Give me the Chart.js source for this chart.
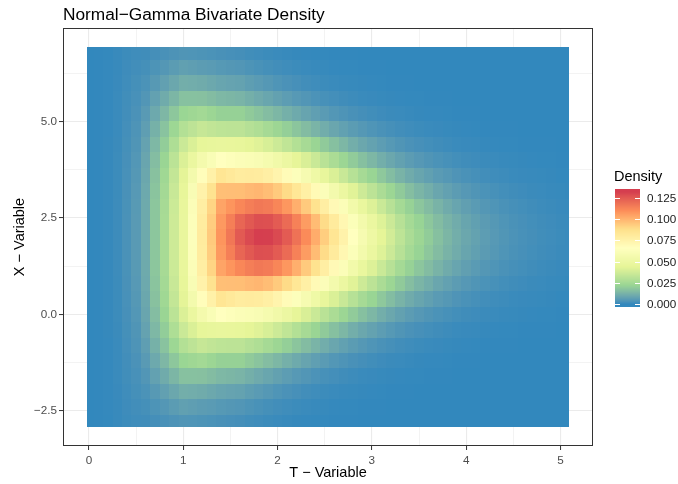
<!DOCTYPE html>
<html>
<head>
<meta charset="utf-8">
<script src="https://cdn.jsdelivr.net/npm/chart.js@4.4.1/dist/chart.umd.min.js"></script>
<style>
  html, body { margin: 0; padding: 0; background: #fff; }
</style>
</head>
<body>
<canvas id="grafico" width="678" height="484"></canvas>
<script>
// T values (columns) and X values (rows, top to bottom) of the grid
const tValues = [0, 0.1, 0.2, 0.3, 0.4, 0.5, 0.6, 0.7, 0.8, 0.9, 1.0, 1.1, 1.2, 1.3, 1.4, 1.5, 1.6, 1.7, 1.8, 1.9,
  2.0, 2.1, 2.2, 2.3, 2.4, 2.5, 2.6, 2.7, 2.8, 2.9, 3.0, 3.1, 3.2, 3.3, 3.4, 3.5, 3.6, 3.7, 3.8, 3.9,
  4.0, 4.1, 4.2, 4.3, 4.4, 4.5, 4.6, 4.7, 4.8, 4.9, 5.0, 5.1];
const xValues = [6.8, 6.4, 6.0, 5.6, 5.2, 4.8, 4.4, 4.0, 3.6, 3.2, 2.8, 2.4, 2.0, 1.6, 1.2, 0.8, 0.4, 0.0, -0.4, -0.8, -1.2, -1.6, -2.0, -2.4, -2.8];
const tExtent = [-0.025, 5.09];
const xExtent = [-2.92, 6.93];

// density, in units of 1e-4 (one row per X value, one column per T value)
const density = [
  [0, 1, 2, 6, 11, 15, 16, 22, 28, 34, 40, 38, 35, 32, 28, 25, 22, 17, 14, 11, 8, 6, 4, 3, 2, 2, 1, 1, 1, 0, 0, 0, 0, 0, 0, 0, 0, 0, 0, 0, 0, 0, 0, 0, 0, 0, 0, 0, 0, 0, 0, 0],
  [0, 1, 3, 6, 13, 19, 23, 35, 46, 59, 71, 66, 61, 56, 50, 46, 42, 35, 29, 23, 18, 14, 11, 8, 6, 5, 3, 2, 2, 1, 1, 1, 0, 0, 0, 0, 0, 0, 0, 0, 0, 0, 0, 0, 0, 0, 0, 0, 0, 0, 0, 0],
  [0, 1, 3, 7, 15, 23, 32, 52, 72, 92, 112, 108, 104, 95, 85, 80, 76, 65, 56, 47, 38, 31, 25, 19, 15, 11, 9, 6, 5, 4, 3, 2, 1, 1, 1, 0, 0, 0, 0, 0, 0, 0, 0, 0, 0, 0, 0, 0, 0, 0, 0, 0],
  [0, 1, 3, 8, 17, 27, 43, 74, 104, 135, 165, 164, 163, 152, 140, 135, 129, 114, 101, 88, 75, 62, 51, 42, 33, 26, 21, 16, 12, 9, 7, 5, 4, 3, 2, 2, 1, 1, 1, 0, 0, 0, 0, 0, 0, 0, 0, 0, 0, 0, 0, 0],
  [0, 1, 3, 9, 19, 31, 55, 97, 138, 181, 224, 236, 247, 229, 210, 210, 209, 190, 174, 155, 136, 117, 99, 83, 68, 56, 45, 36, 28, 22, 17, 13, 10, 8, 6, 4, 3, 3, 2, 1, 1, 1, 0, 0, 0, 0, 0, 0, 0, 0, 0, 0],
  [0, 1, 3, 9, 21, 36, 67, 119, 170, 232, 293, 319, 345, 333, 320, 318, 317, 298, 280, 256, 230, 204, 177, 152, 129, 108, 89, 73, 59, 48, 38, 30, 24, 19, 15, 11, 8, 7, 5, 4, 3, 2, 1, 1, 1, 1, 0, 0, 0, 0, 0, 0],
  [0, 1, 4, 10, 23, 40, 78, 139, 199, 279, 358, 405, 452, 461, 470, 463, 456, 439, 422, 396, 363, 329, 293, 257, 223, 191, 162, 136, 112, 92, 76, 62, 50, 40, 31, 25, 20, 16, 12, 9, 7, 6, 4, 3, 2, 2, 1, 1, 1, 1, 0, 0],
  [0, 1, 4, 11, 25, 44, 87, 155, 222, 315, 408, 484, 560, 610, 660, 640, 621, 611, 598, 571, 535, 494, 448, 402, 355, 310, 268, 229, 193, 162, 136, 112, 93, 75, 60, 49, 40, 32, 26, 20, 16, 13, 10, 8, 6, 5, 4, 3, 2, 2, 1, 1],
  [0, 1, 4, 11, 27, 48, 93, 166, 238, 337, 436, 556, 675, 758, 840, 818, 796, 799, 795, 772, 735, 689, 635, 578, 519, 460, 404, 351, 300, 256, 219, 184, 154, 126, 104, 86, 71, 57, 47, 37, 30, 24, 19, 15, 12, 9, 7, 6, 5, 4, 2, 2],
  [0, 1, 4, 11, 28, 51, 97, 174, 250, 352, 453, 602, 750, 860, 970, 972, 973, 985, 993, 975, 940, 893, 833, 768, 697, 626, 557, 489, 424, 366, 317, 269, 229, 190, 158, 132, 111, 90, 74, 60, 49, 40, 32, 26, 20, 16, 13, 10, 8, 6, 5, 4],
  [0, 1, 4, 12, 29, 53, 100, 179, 257, 361, 464, 622, 780, 910, 1040, 1080, 1119, 1144, 1163, 1153, 1121, 1074, 1011, 940, 861, 780, 700, 620, 542, 473, 413, 354, 303, 254, 213, 180, 152, 125, 103, 85, 70, 57, 46, 38, 30, 24, 20, 16, 12, 10, 7, 6],
  [0, 1, 4, 12, 30, 55, 100, 180, 260, 365, 470, 633, 795, 933, 1070, 1143, 1216, 1252, 1279, 1275, 1245, 1200, 1135, 1061, 978, 890, 802, 715, 628, 551, 484, 417, 360, 302, 254, 216, 183, 152, 126, 105, 86, 71, 58, 47, 38, 30, 25, 20, 16, 13, 10, 8],
  [0, 1, 4, 12, 30, 55, 100, 180, 260, 365, 470, 635, 800, 940, 1080, 1165, 1250, 1290, 1320, 1318, 1290, 1245, 1180, 1105, 1020, 930, 840, 750, 660, 580, 510, 440, 380, 320, 270, 230, 195, 162, 135, 112, 92, 76, 62, 51, 41, 33, 27, 22, 17, 14, 11, 9],
  [0, 1, 4, 12, 30, 55, 100, 180, 260, 365, 470, 633, 795, 933, 1070, 1143, 1216, 1252, 1279, 1275, 1245, 1200, 1135, 1061, 978, 890, 802, 715, 628, 551, 484, 417, 360, 302, 254, 216, 183, 152, 126, 105, 86, 71, 58, 47, 38, 30, 25, 20, 16, 13, 10, 8],
  [0, 1, 4, 12, 29, 53, 100, 179, 257, 361, 464, 622, 780, 910, 1040, 1080, 1119, 1144, 1163, 1153, 1121, 1074, 1011, 940, 861, 780, 700, 620, 542, 473, 413, 354, 303, 254, 213, 180, 152, 125, 103, 85, 70, 57, 46, 38, 30, 24, 20, 16, 12, 10, 7, 6],
  [0, 1, 4, 11, 28, 51, 97, 174, 250, 352, 453, 602, 750, 860, 970, 972, 973, 985, 993, 975, 940, 893, 833, 768, 697, 626, 557, 489, 424, 366, 317, 269, 229, 190, 158, 132, 111, 90, 74, 60, 49, 40, 32, 26, 20, 16, 13, 10, 8, 6, 5, 4],
  [0, 1, 4, 11, 27, 48, 93, 166, 238, 337, 436, 556, 675, 758, 840, 818, 796, 799, 795, 772, 735, 689, 635, 578, 519, 460, 404, 351, 300, 256, 219, 184, 154, 126, 104, 86, 71, 57, 47, 37, 30, 24, 19, 15, 12, 9, 7, 6, 5, 4, 2, 2],
  [0, 1, 4, 11, 25, 44, 87, 155, 222, 315, 408, 484, 560, 610, 660, 640, 621, 611, 598, 571, 535, 494, 448, 402, 355, 310, 268, 229, 193, 162, 136, 112, 93, 75, 60, 49, 40, 32, 26, 20, 16, 13, 10, 8, 6, 5, 4, 3, 2, 2, 1, 1],
  [0, 1, 4, 10, 23, 40, 78, 139, 199, 279, 358, 405, 452, 461, 470, 463, 456, 439, 422, 396, 363, 329, 293, 257, 223, 191, 162, 136, 112, 92, 76, 62, 50, 40, 31, 25, 20, 16, 12, 9, 7, 6, 4, 3, 2, 2, 1, 1, 1, 1, 0, 0],
  [0, 1, 3, 9, 21, 36, 67, 119, 170, 232, 293, 319, 345, 333, 320, 318, 317, 298, 280, 256, 230, 204, 177, 152, 129, 108, 89, 73, 59, 48, 38, 30, 24, 19, 15, 11, 8, 7, 5, 4, 3, 2, 1, 1, 1, 1, 0, 0, 0, 0, 0, 0],
  [0, 1, 3, 9, 19, 31, 55, 97, 138, 181, 224, 236, 247, 229, 210, 210, 209, 190, 174, 155, 136, 117, 99, 83, 68, 56, 45, 36, 28, 22, 17, 13, 10, 8, 6, 4, 3, 3, 2, 1, 1, 1, 0, 0, 0, 0, 0, 0, 0, 0, 0, 0],
  [0, 1, 3, 8, 17, 27, 43, 74, 104, 135, 165, 164, 163, 152, 140, 135, 129, 114, 101, 88, 75, 62, 51, 42, 33, 26, 21, 16, 12, 9, 7, 5, 4, 3, 2, 2, 1, 1, 1, 0, 0, 0, 0, 0, 0, 0, 0, 0, 0, 0, 0, 0],
  [0, 1, 3, 7, 15, 23, 32, 52, 72, 92, 112, 108, 104, 95, 85, 80, 76, 65, 56, 47, 38, 31, 25, 19, 15, 11, 9, 6, 5, 4, 3, 2, 1, 1, 1, 0, 0, 0, 0, 0, 0, 0, 0, 0, 0, 0, 0, 0, 0, 0, 0, 0],
  [0, 1, 3, 6, 13, 19, 23, 35, 46, 59, 71, 66, 61, 56, 50, 46, 42, 35, 29, 23, 18, 14, 11, 8, 6, 5, 3, 2, 2, 1, 1, 1, 0, 0, 0, 0, 0, 0, 0, 0, 0, 0, 0, 0, 0, 0, 0, 0, 0, 0, 0, 0],
  [0, 1, 2, 6, 11, 15, 16, 22, 28, 34, 40, 38, 35, 32, 28, 25, 22, 17, 14, 11, 8, 6, 4, 3, 2, 2, 1, 1, 1, 0, 0, 0, 0, 0, 0, 0, 0, 0, 0, 0, 0, 0, 0, 0, 0, 0, 0, 0, 0, 0, 0, 0]
];

const tTicks = [0, 1, 2, 3, 4, 5];
const tGrid = [0, 0.5, 1, 1.5, 2, 2.5, 3, 3.5, 4, 4.5, 5];
const xTicks = [-2.5, 0, 2.5, 5];
const xGrid = [-2.5, -1.25, 0, 1.25, 2.5, 3.75, 5, 6.25];
const legendTicks = [0, 0.025, 0.05, 0.075, 0.1, 0.125];
const spectral = ["#3288BD", "#99D594", "#E6F598", "#FFFFBF", "#FEE08B", "#FC8D59", "#D53E4F"];

const FONT = "'Liberation Sans', Arial, sans-serif";
const MINUS = "\u2212";

// colour ramp in CIE Lab, like ggplot's gradient
const WHITE = [0.95047, 1, 1.08883];
function toLinear(c) { c /= 255; return c <= 0.04045 ? c / 12.92 : Math.pow((c + 0.055) / 1.055, 2.4); }
function toSrgb(c) {
  const v = c <= 0.0031308 ? 12.92 * c : 1.055 * Math.pow(c, 1 / 2.4) - 0.055;
  return Math.round(Math.max(0, Math.min(1, v)) * 255);
}
function hexToLab(hex) {
  const r = toLinear(parseInt(hex.slice(1, 3), 16));
  const g = toLinear(parseInt(hex.slice(3, 5), 16));
  const b = toLinear(parseInt(hex.slice(5, 7), 16));
  const f = t => t > 0.008856 ? Math.cbrt(t) : 7.787 * t + 16 / 116;
  const fx = f((0.4124 * r + 0.3576 * g + 0.1805 * b) / WHITE[0]);
  const fy = f((0.2126 * r + 0.7152 * g + 0.0722 * b) / WHITE[1]);
  const fz = f((0.0193 * r + 0.1192 * g + 0.9505 * b) / WHITE[2]);
  return [116 * fy - 16, 500 * (fx - fy), 200 * (fy - fz)];
}
function labToCss(lab) {
  const fy = (lab[0] + 16) / 116, fx = fy + lab[1] / 500, fz = fy - lab[2] / 200;
  const inv = t => t * t * t > 0.008856 ? t * t * t : (t - 16 / 116) / 7.787;
  const X = inv(fx) * WHITE[0], Y = inv(fy) * WHITE[1], Z = inv(fz) * WHITE[2];
  const r = toSrgb(3.2406 * X - 1.5372 * Y - 0.4986 * Z);
  const g = toSrgb(-0.9689 * X + 1.8758 * Y + 0.0415 * Z);
  const b = toSrgb(0.0557 * X - 0.2040 * Y + 1.0570 * Z);
  return "rgb(" + r + "," + g + "," + b + ")";
}
const labStops = spectral.map(hexToLab);

const points = [];
xValues.forEach((xv, r) => {
  tValues.forEach((tv, c) => points.push({ x: tv, y: xv, v: density[r][c] / 1e4 }));
});
const maxDensity = Math.max(...points.map(p => p.v));

function fillColor(v) {
  const p = Math.max(0, Math.min(1, v / maxDensity)) * (labStops.length - 1);
  const i = Math.min(Math.floor(p), labStops.length - 2);
  const f = p - i;
  const a = labStops[i], b = labStops[i + 1];
  return labToCss([a[0] + (b[0] - a[0]) * f, a[1] + (b[1] - a[1]) * f, a[2] + (b[2] - a[2]) * f]);
}

function bounds(value, centers, extent) {
  const half = Math.abs(centers[1] - centers[0]) / 2;
  return [Math.max(extent[0], value - half), Math.min(extent[1], value + half)];
}

const heatmap = {
  id: "heatmap",
  beforeDatasetsDraw(chart) {
    const { ctx, scales: { x, y } } = chart;
    ctx.save();
    chart.data.datasets[0].data.forEach(p => {
      const [t0, t1] = bounds(p.x, tValues, tExtent);
      const [x0, x1] = bounds(p.y, xValues, xExtent);
      const left = Math.round(x.getPixelForValue(t0));
      const right = Math.round(x.getPixelForValue(t1));
      const top = Math.round(y.getPixelForValue(x1));
      const bottom = Math.round(y.getPixelForValue(x0));
      ctx.fillStyle = fillColor(p.v);
      ctx.fillRect(left, top, right - left, bottom - top);
    });
    ctx.restore();
  }
};

const decor = {
  id: "decor",
  afterDraw(chart) {
    const { ctx, chartArea: a } = chart;
    ctx.save();
    // panel border
    ctx.strokeStyle = "#333333";
    ctx.lineWidth = 1;
    ctx.strokeRect(a.left + 0.5, a.top + 0.5, a.right - a.left - 1, a.bottom - a.top - 1);

    // title
    ctx.fillStyle = "#000";
    ctx.font = "17.3px " + FONT;
    ctx.textBaseline = "alphabetic";
    ctx.textAlign = "left";
    ctx.fillText("Normal" + MINUS + "Gamma Bivariate Density", a.left, 20);

    // colour bar legend
    const barLeft = 615, barRight = 640, barTop = 189, barBottom = 307, inset = 3;
    const span = barBottom - barTop - 2 * inset;
    const yFor = v => barBottom - inset - v / maxDensity * span;
    ctx.font = "14.5px " + FONT;
    ctx.fillText("Density", 614, 181);
    for (let py = barTop; py < barBottom; py++) {
      const v = (barBottom - inset - (py + 0.5)) / span * maxDensity;
      ctx.fillStyle = fillColor(v);
      ctx.fillRect(barLeft, py, barRight - barLeft, 1);
    }
    ctx.strokeStyle = "#fff";
    ctx.lineWidth = 1;
    ctx.font = "11.7px " + FONT;
    ctx.textBaseline = "middle";
    legendTicks.forEach(v => {
      const py = Math.round(yFor(v)) + 0.5;
      ctx.beginPath();
      ctx.moveTo(barLeft, py); ctx.lineTo(barLeft + 5, py);
      ctx.moveTo(barRight - 5, py); ctx.lineTo(barRight, py);
      ctx.stroke();
      ctx.fillStyle = "#1A1A1A";
      ctx.fillText(v.toFixed(3), 647, py);
    });
    ctx.restore();
  }
};

const isMajorT = v => tTicks.some(t => Math.abs(t - v) < 1e-9);
const isMajorX = v => xTicks.some(t => Math.abs(t - v) < 1e-9);

new Chart(document.getElementById("grafico").getContext("2d"), {
  type: "scatter",
  data: {
    datasets: [{ data: points, pointRadius: 0, pointHoverRadius: 0 }]
  },
  options: {
    responsive: false,
    animation: false,
    devicePixelRatio: 1,
    events: [],
    layout: { padding: { left: 0, top: 28, right: 85, bottom: 0 } },
    plugins: { legend: { display: false }, tooltip: { enabled: false } },
    scales: {
      x: {
        type: "linear",
        min: -0.275,
        max: 5.345,
        afterBuildTicks: s => { s.ticks = tGrid.map(v => ({ value: v })); },
        afterFit: s => { s.height = 38; },
        border: { display: false },
        grid: {
          color: "#EBEBEB",
          lineWidth: c => isMajorT(c.tick.value) ? 1.1 : 0.6,
          tickColor: c => isMajorT(c.tick.value) ? "#333333" : "rgba(0,0,0,0)",
          tickWidth: 1,
          tickLength: 4
        },
        ticks: {
          autoSkip: false,
          maxRotation: 0,
          padding: 4,
          color: "#4D4D4D",
          font: { family: FONT, size: 11.7 },
          callback: v => isMajorT(v) ? String(v) : ""
        },
        title: {
          display: true,
          text: "T " + MINUS + " Variable",
          color: "#000",
          font: { family: FONT, size: 14.5 },
          padding: { top: 0, bottom: 2 }
        }
      },
      y: {
        type: "linear",
        min: -3.41,
        max: 7.42,
        afterBuildTicks: s => { s.ticks = xGrid.map(v => ({ value: v })); },
        afterFit: s => { s.width = 63; },
        border: { display: false },
        grid: {
          color: "#EBEBEB",
          lineWidth: c => isMajorX(c.tick.value) ? 1.1 : 0.6,
          tickColor: c => isMajorX(c.tick.value) ? "#333333" : "rgba(0,0,0,0)",
          tickWidth: 1,
          tickLength: 4
        },
        ticks: {
          autoSkip: false,
          padding: 2,
          color: "#4D4D4D",
          font: { family: FONT, size: 11.7 },
          callback: v => isMajorX(v) ? v.toFixed(1).replace("-", MINUS) : ""
        },
        title: {
          display: true,
          text: "X " + MINUS + " Variable",
          color: "#000",
          font: { family: FONT, size: 14.5 },
          padding: { top: 11, bottom: 0 }
        }
      }
    }
  },
  plugins: [heatmap, decor]
});
</script>
</body>
</html>
